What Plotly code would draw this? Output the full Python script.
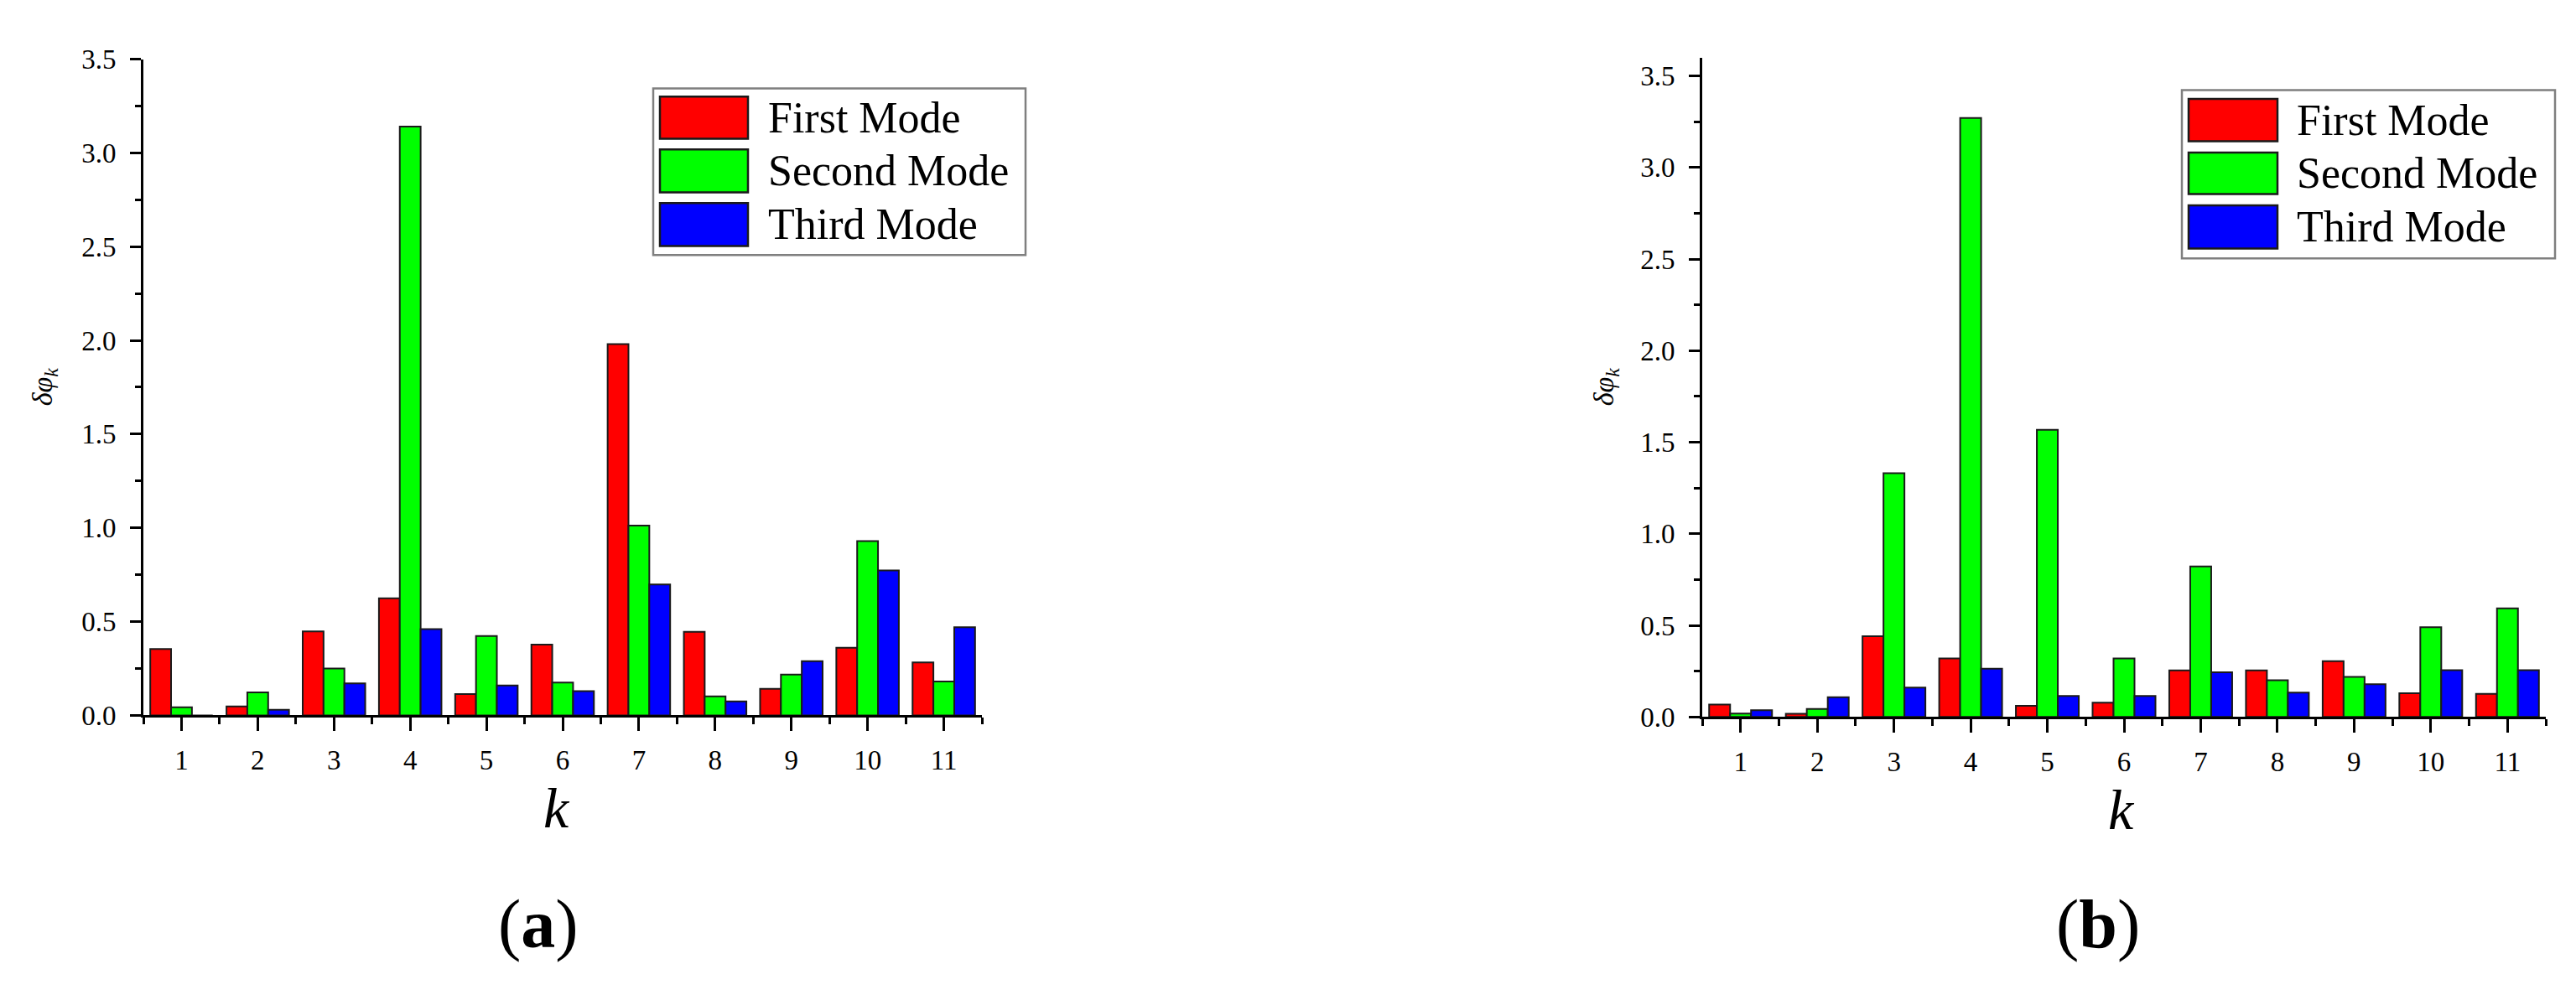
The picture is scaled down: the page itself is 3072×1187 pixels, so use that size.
"""Mode-shape change index, two panels of grouped bars."""

import plotly.graph_objects as go

FIG_W, FIG_H = 3072, 1187
FONT = "Liberation Serif, Times New Roman, serif"

K_VALUES = [1, 2, 3, 4, 5, 6, 7, 8, 9, 10, 11]
MODE_NAMES = ["First Mode", "Second Mode", "Third Mode"]
MODE_COLORS = ["#FF0000", "#00FF00", "#0000FF"]

# panel (a)
FIRST_A = [0.354, 0.048, 0.448, 0.624, 0.113, 0.377, 1.98, 0.445, 0.142, 0.36, 0.282]
SECOND_A = [0.043, 0.123, 0.25, 3.14, 0.423, 0.175, 1.012, 0.101, 0.218, 0.929, 0.181]
THIRD_A = [0.0, 0.030, 0.171, 0.46, 0.159, 0.129, 0.698, 0.074, 0.289, 0.773, 0.47]

# panel (b)
FIRST_B = [0.068, 0.018, 0.441, 0.32, 0.061, 0.078, 0.254, 0.254, 0.305, 0.13, 0.126]
SECOND_B = [0.019, 0.044, 1.331, 3.27, 1.568, 0.32, 0.822, 0.201, 0.219, 0.49, 0.593]
THIRD_B = [0.037, 0.108, 0.16, 0.263, 0.115, 0.115, 0.244, 0.133, 0.179, 0.256, 0.256]

Y_TICKS = [0.0, 0.5, 1.0, 1.5, 2.0, 2.5, 3.0, 3.5]


def px_x(x):
    return x / FIG_W


def px_y(y):
    return 1 - y / FIG_H


def x_axis(domain, anchor):
    return {
        "domain": domain,
        "anchor": anchor,
        "range": [0.5, 11.5],
        "tickmode": "array",
        "tickvals": K_VALUES,
        "ticktext": [str(k) for k in K_VALUES],
        "ticks": "outside",
        "ticklen": 16,
        "tickwidth": 2.5,
        "tickcolor": "black",
        "ticklabelstandoff": 6,
        "minor": {
            "tickmode": "array",
            "tickvals": [k - 0.5 for k in K_VALUES] + [11.5],
            "ticks": "outside",
            "ticklen": 8,
            "tickwidth": 2.5,
            "tickcolor": "black",
            "showgrid": False,
        },
        "showline": True,
        "linecolor": "black",
        "linewidth": 3,
        "showgrid": False,
        "zeroline": False,
        "tickfont": {"family": FONT, "size": 33, "color": "black"},
    }


def y_axis(domain, anchor, top):
    return {
        "domain": domain,
        "anchor": anchor,
        "range": [0, top],
        "tickmode": "array",
        "tickvals": Y_TICKS,
        "ticktext": [f"{v:.1f}" for v in Y_TICKS],
        "ticks": "outside",
        "ticklen": 13,
        "tickwidth": 2.5,
        "tickcolor": "black",
        "ticklabelstandoff": 10,
        "minor": {
            "tick0": 0.25,
            "dtick": 0.5,
            "ticks": "outside",
            "ticklen": 7,
            "tickwidth": 2.5,
            "tickcolor": "black",
            "showgrid": False,
        },
        "showline": True,
        "linecolor": "black",
        "linewidth": 3,
        "showgrid": False,
        "zeroline": False,
        "tickfont": {"family": FONT, "size": 33, "color": "black"},
    }


def add_panel(fig, series, xref, yref):
    for name, color, values in zip(MODE_NAMES, MODE_COLORS, series):
        fig.add_trace(
            go.Bar(
                x=K_VALUES,
                y=values,
                name=name,
                marker={"color": color, "line": {"color": "#1a1a1a", "width": 2}},
                xaxis=xref,
                yaxis=yref,
                showlegend=False,
            )
        )


def add_legend_box(fig, box, swatch_x, rows, text_x):
    """Origin-style legend with large swatches, in pixel coordinates."""
    x0, y0, x1, y1 = box
    fig.add_shape(
        type="rect", xref="paper", yref="paper",
        x0=px_x(x0), x1=px_x(x1), y0=px_y(y1), y1=px_y(y0),
        line={"color": "#7f7f7f", "width": 2.5}, fillcolor="white",
    )
    for name, color, (ry0, ry1) in zip(MODE_NAMES, MODE_COLORS, rows):
        fig.add_shape(
            type="rect", xref="paper", yref="paper",
            x0=px_x(swatch_x[0]), x1=px_x(swatch_x[1]), y0=px_y(ry1), y1=px_y(ry0),
            line={"color": "#1a1a1a", "width": 2.5}, fillcolor=color,
        )
        fig.add_annotation(
            x=px_x(text_x), y=px_y((ry0 + ry1) / 2), xref="paper", yref="paper",
            text=name, showarrow=False, xanchor="left", yanchor="middle",
            font={"family": FONT, "size": 52, "color": "black"},
        )


def add_labels(fig, ytitle_x, ytitle_y, k_x, k_y, tag, tag_x, tag_y):
    fig.add_annotation(
        x=px_x(ytitle_x), y=px_y(ytitle_y), xref="paper", yref="paper",
        text="<i>δφ</i><sub><i>k</i></sub>", textangle=-90, showarrow=False,
        xanchor="center", yanchor="middle",
        font={"family": FONT, "size": 34, "color": "black"},
    )
    fig.add_annotation(
        x=px_x(k_x), y=px_y(k_y), xref="paper", yref="paper",
        text="<i>k</i>", showarrow=False, xanchor="center", yanchor="middle",
        height=58,
        font={"family": FONT, "size": 68, "color": "black"},
    )
    fig.add_annotation(
        x=px_x(tag_x), y=px_y(tag_y), xref="paper", yref="paper",
        text=f"(<b>{tag}</b>)", showarrow=False, xanchor="center", yanchor="middle",
        font={"family": FONT, "size": 82, "color": "black"},
    )


fig = go.Figure()
add_panel(fig, [FIRST_A, SECOND_A, THIRD_A], "x", "y")
add_panel(fig, [FIRST_B, SECOND_B, THIRD_B], "x2", "y2")

add_legend_box(fig, (771, 83, 1215, 288), (779, 884), [(93, 145), (158, 211), (224, 277)], 906)
add_legend_box(fig, (2594, 85, 3039, 292), (2602, 2708), [(96, 148), (162, 213), (227, 280)], 2729)

add_labels(fig, 45, 450, 656, 968, "a", 634, 1111)
add_labels(fig, 1907, 450, 2522, 970, "b", 2494, 1111)

fig.update_layout(
    width=FIG_W,
    height=FIG_H,
    margin={"l": 0, "r": 0, "t": 0, "b": 0},
    paper_bgcolor="white",
    plot_bgcolor="white",
    barmode="group",
    bargap=0.18,
    bargroupgap=0,
    showlegend=False,
    font={"family": FONT, "color": "black"},
    xaxis=x_axis([px_x(163), px_x(1163)], "y"),
    yaxis=y_axis([px_y(854.3), px_y(47)], "x", 3.5),
    xaxis2=x_axis([px_x(2022), px_x(3028)], "y2"),
    yaxis2=y_axis([px_y(856.3), px_y(45)], "x2", 3.6),
)

fig.write_html("out.html")
